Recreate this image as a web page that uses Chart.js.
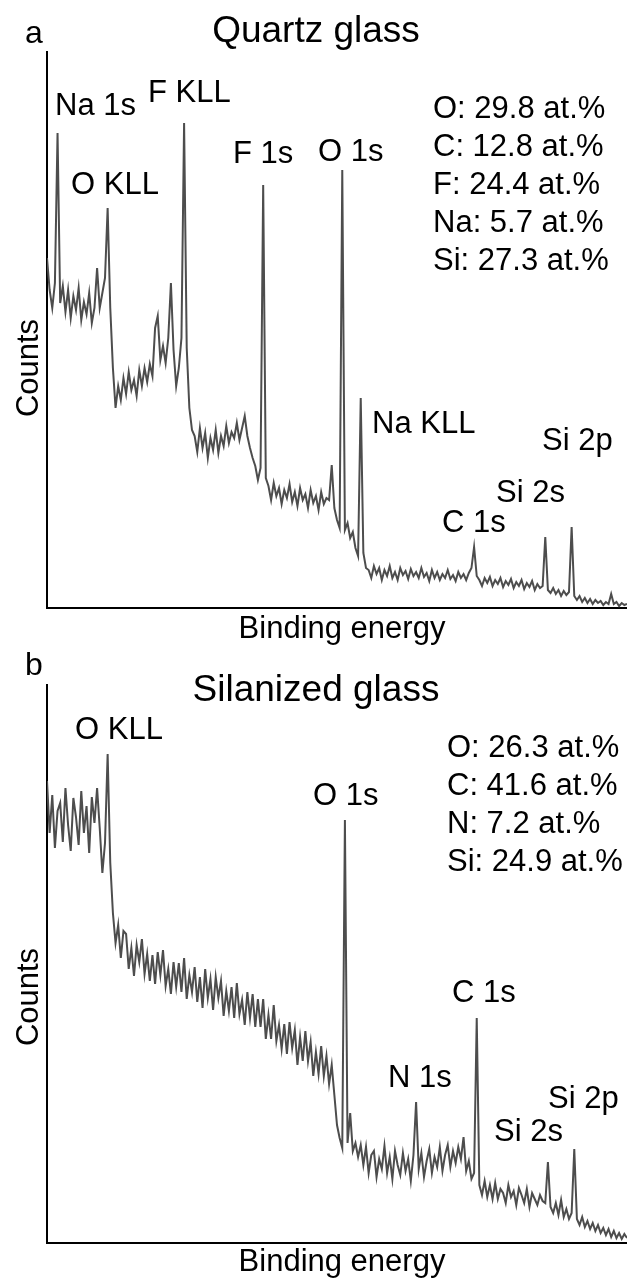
<!DOCTYPE html>
<html>
<head>
<meta charset="utf-8">
<script src="https://cdn.jsdelivr.net/npm/chart.js@4.4.0/dist/chart.umd.min.js"></script>
<style>
  html, body { margin: 0; padding: 0; background: #fff; }
  canvas { display: block; }
</style>
</head>
<body>
<canvas id="quartzChart" width="627" height="648"></canvas>
<canvas id="silanizedChart" width="627" height="632"></canvas>
<script>
// survey scans: one value every 5 eV from 1100 eV down to 0 eV
const energyStart = 1100;
const energyStep = 5;

// quartz glass counts (arbitrary units), rows of 50 eV
const quartzCounts = [
  350, 318, 300, 325, 475, 305, 322, 296, 318, 290,
  312, 298, 320, 288, 306, 294, 315, 285, 300, 340,
  300, 315, 330, 400, 300, 240, 200, 222, 208, 230,
  214, 236, 218, 228, 212, 238, 222, 240, 226, 244,
  232, 280, 292, 248, 262, 245, 270, 325, 258, 222,
  240, 270, 485, 260, 200, 178, 172, 156, 180, 160,
  175, 150, 170, 158, 178, 155, 172, 162, 182, 165,
  176, 170, 185, 168, 180, 192, 172, 160, 150, 142,
  128, 140, 423, 130, 122, 108, 125, 112, 120, 104,
  118, 110, 124, 106, 116, 102, 120, 108, 114, 100,
  118, 105, 112, 98, 116, 104, 110, 108, 143, 100,
  88, 80, 438, 78, 85, 70, 76, 60, 52, 210,
  55, 40, 38, 30, 42, 34, 40, 28, 38, 32,
  42, 30, 36, 28, 40, 33, 37, 29, 39, 32,
  36, 30, 40, 31, 35, 27, 38, 30, 36, 28,
  34, 30, 38, 29, 33, 27, 36, 30, 34, 28,
  35, 40, 61, 32, 28, 22, 30, 25, 31, 22,
  28, 24, 30, 21, 27, 23, 29, 20, 26, 22,
  28, 19, 25, 21, 27, 18, 24, 20, 22, 71,
  18, 15, 20, 14, 18, 12, 17, 13, 16, 81,
  12, 8, 12, 6, 10, 5, 9, 4, 8, 5,
  7, 3, 6, 4, 14, 4, 6, 2, 5, 3,
  4
];

// silanized glass counts (arbitrary units), rows of 50 eV
const silanizedCounts = [
  462, 410, 448, 395, 432, 440, 401, 455, 418, 392,
  445, 426, 398, 452, 410, 437, 390, 446, 420, 455,
  415, 370, 400, 489, 380, 330, 300, 318, 285, 312,
  309, 274, 295, 267, 298, 281, 304, 269, 289, 262,
  288, 259, 291, 268, 293, 257, 274, 249, 281, 256,
  280, 251, 285, 244, 268, 251, 276, 241, 266, 235,
  274, 245, 264, 233, 266, 245, 262, 227, 252, 232,
  256, 225, 260, 229, 243, 218, 251, 225, 249, 216,
  244, 216, 244, 204, 228, 204, 238, 202, 218, 194,
  219, 189, 221, 195, 213, 178, 206, 182, 212, 182,
  201, 167, 191, 169, 197, 167, 187, 159, 178, 148,
  118, 105, 95, 423, 100, 130, 92, 100, 86, 98,
  78, 96, 70, 88, 92, 66, 84, 74, 97, 70,
  86, 64, 92, 78, 68, 90, 72, 84, 62, 88,
  141, 74, 90, 66, 82, 94, 70, 86, 76, 96,
  72, 88, 98, 76, 92, 80, 96, 84, 106, 72,
  82, 64, 70, 225, 58, 48, 62, 46, 58, 44,
  60, 44, 54, 50, 40, 58, 46, 52, 38, 55,
  48, 40, 54, 36, 50, 44, 38, 48, 42, 40,
  81, 36, 30, 40, 28, 43, 26, 34, 24, 30,
  94, 24, 18, 26, 16, 22, 14, 20, 12, 18,
  10, 15, 8, 14, 6, 12, 5, 10, 4, 9,
  5
];

const quartzPeaks = ['Na 1s', 'F KLL', 'O KLL', 'F 1s', 'O 1s', 'Na KLL', 'C 1s', 'Si 2s', 'Si 2p'];
const quartzComposition = ['O: 29.8 at.%', 'C: 12.8 at.%', 'F: 24.4 at.%', 'Na: 5.7 at.%', 'Si: 27.3 at.%'];
const silanizedPeaks = ['O KLL', 'O 1s', 'N 1s', 'C 1s', 'Si 2s', 'Si 2p'];
const silanizedComposition = ['O: 26.3 at.%', 'C: 41.6 at.%', 'N: 7.2 at.%', 'Si: 24.9 at.%'];

// where the text goes on each canvas (left x, baseline y)
const quartzPeakPos = [[55, 115], [148, 102], [71, 194], [233, 163], [318, 161], [372, 433], [442, 532], [496, 502], [542, 450]];
const silanizedPeakPos = [[75, 91], [313, 157], [388, 439], [452, 354], [494, 493], [548, 460]];

const FONT = '"Liberation Sans", Arial, sans-serif';

const panelText = {
  id: 'panelText',
  afterDraw(chart, args, opts) {
    const ctx = chart.ctx;
    ctx.save();
    ctx.fillStyle = '#000';
    ctx.textBaseline = 'alphabetic';

    ctx.font = '32px ' + FONT;
    ctx.textAlign = 'left';
    ctx.fillText(opts.letter, 25, opts.letterY);

    ctx.font = '37px ' + FONT;
    ctx.textAlign = 'center';
    ctx.fillText(opts.title, 316, opts.titleY);

    ctx.font = '31px ' + FONT;
    ctx.textAlign = 'left';
    opts.peaks.forEach((p, i) => ctx.fillText(p, opts.peakPos[i][0], opts.peakPos[i][1]));
    opts.composition.forEach((line, i) => ctx.fillText(line, opts.compX, opts.compY + i * 38));

    ctx.textAlign = 'center';
    ctx.fillText('Binding energy', 342, opts.xTitleY);

    ctx.translate(38, opts.yTitleY);
    ctx.rotate(-Math.PI / 2);
    ctx.fillText('Counts', 0, 0);
    ctx.restore();
  }
};

function makeSpectrum(id, counts, yMax, pad, text) {
  return new Chart(document.getElementById(id), {
    type: 'line',
    data: {
      datasets: [{
        data: counts.map((c, i) => ({ x: energyStart - i * energyStep, y: c })),
        borderColor: '#4d4d4d',
        borderWidth: 2,
        pointRadius: 0,
        tension: 0
      }]
    },
    options: {
      responsive: false,
      animation: false,
      layout: { padding: pad },
      plugins: {
        legend: { display: false },
        tooltip: { enabled: false },
        panelText: text
      },
      scales: {
        x: {
          type: 'linear',
          reverse: true,
          min: 0,
          max: energyStart,
          ticks: { display: false },
          grid: { drawOnChartArea: false, drawTicks: false },
          border: { display: true, color: '#000', width: 2 }
        },
        y: {
          min: 0,
          max: yMax,
          ticks: { display: false },
          grid: { drawOnChartArea: false, drawTicks: false },
          border: { display: true, color: '#000', width: 2 }
        }
      }
    },
    plugins: [panelText]
  });
}

makeSpectrum('quartzChart', quartzCounts, 556, { top: 52, left: 47, right: 0, bottom: 40 }, {
  letter: 'a', letterY: 43, title: 'Quartz glass', titleY: 42,
  peaks: quartzPeaks, peakPos: quartzPeakPos,
  composition: quartzComposition, compX: 433, compY: 118,
  xTitleY: 638, yTitleY: 368
});

makeSpectrum('silanizedChart', silanizedCounts, 558, { top: 37, left: 47, right: 0, bottom: 37 }, {
  letter: 'b', letterY: 27, title: 'Silanized glass', titleY: 53,
  peaks: silanizedPeaks, peakPos: silanizedPeakPos,
  composition: silanizedComposition, compX: 447, compY: 109,
  xTitleY: 623, yTitleY: 349
});
</script>
</body>
</html>
